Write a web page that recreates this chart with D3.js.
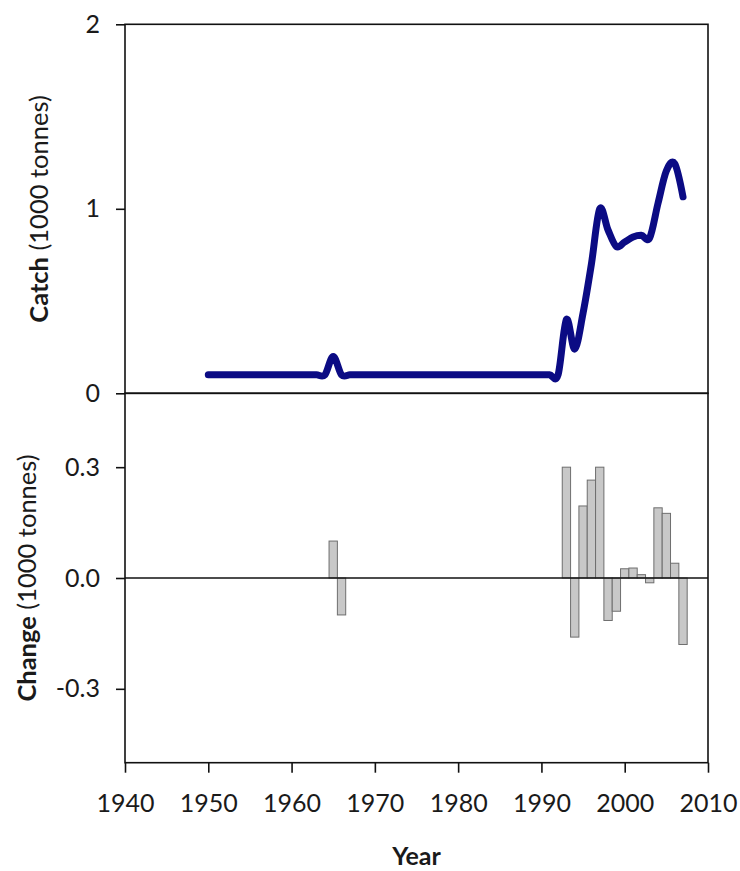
<!DOCTYPE html>
<html>
<head>
<meta charset="utf-8">
<script src="https://cdn.jsdelivr.net/npm/d3@7"></script>
<style>
  html, body { margin: 0; padding: 0; background: #fff; }
  svg { display: block; }
  text { font-family: Lato, "Open Sans", sans-serif; fill: #1a1a1a; }
</style>
</head>
<body>
<svg id="chart" width="740" height="871"></svg>
<script>
// Annual catch (1000 tonnes)
const catchYears = d3.range(1950, 2008);
const catchValues = [
  0.1, 0.1, 0.1, 0.1, 0.1, 0.1, 0.1, 0.1, 0.1, 0.1,        // 1950-1959
  0.1, 0.1, 0.1, 0.1, 0.1, 0.2, 0.1, 0.1, 0.1, 0.1,        // 1960-1969
  0.1, 0.1, 0.1, 0.1, 0.1, 0.1, 0.1, 0.1, 0.1, 0.1,        // 1970-1979
  0.1, 0.1, 0.1, 0.1, 0.1, 0.1, 0.1, 0.1, 0.1, 0.1,        // 1980-1989
  0.1, 0.1, 0.1, 0.40, 0.24, 0.435, 0.70, 1.00, 0.885, 0.795, // 1990-1999
  0.82, 0.847, 0.856, 0.843, 1.03, 1.205, 1.245, 1.065     // 2000-2007
];

// Year-on-year change (1000 tonnes), non-zero years only
const changeYears = [1965, 1966, 1993, 1994, 1995, 1996, 1997, 1998, 1999,
                     2000, 2001, 2002, 2003, 2004, 2005, 2006, 2007];
const changeValues = [0.10, -0.10, 0.30, -0.16, 0.195, 0.265, 0.30, -0.115, -0.09,
                      0.025, 0.027, 0.009, -0.013, 0.19, 0.175, 0.04, -0.18];

const xTicks = [1940, 1950, 1960, 1970, 1980, 1990, 2000, 2010];
const catchTicks = [0, 1, 2];
const changeTicks = [-0.3, 0.0, 0.3];

const svg = d3.select("#chart");
const left = 125, right = 708;
const topY = 24.3, midY = 393.3, botY = 762.7;

const x = d3.scaleLinear().domain([1940, 2010]).range([left, right]);
const yCatch = d3.scaleLinear().domain([0, 2]).range([midY, topY]);
const yChange = d3.scaleLinear().domain([-0.5, 0.5]).range([botY, midY]);

// Panel frames
const frame = svg.append("g").attr("fill", "none").attr("stroke", "#111").attr("stroke-width", 1.6);
frame.append("rect").attr("x", left).attr("y", topY).attr("width", right - left).attr("height", midY - topY);
frame.append("rect").attr("x", left).attr("y", midY).attr("width", right - left).attr("height", botY - midY);

// Change bars
svg.append("g").selectAll("rect")
  .data(changeYears.map((yr, i) => ({ yr, v: changeValues[i] })))
  .join("rect")
  .attr("x", d => x(d.yr - 0.5))
  .attr("width", d => x(d.yr + 0.5) - x(d.yr - 0.5))
  .attr("y", d => yChange(Math.max(0, d.v)))
  .attr("height", d => Math.abs(yChange(d.v) - yChange(0)))
  .attr("fill", "#c8c8c8")
  .attr("stroke", "#6e6e6e")
  .attr("stroke-width", 1);

// Zero line of the change panel
svg.append("line")
  .attr("x1", left).attr("x2", right)
  .attr("y1", yChange(0)).attr("y2", yChange(0))
  .attr("stroke", "#111").attr("stroke-width", 1.6);

// Smoothed catch line
const line = d3.line()
  .x((d, i) => x(catchYears[i]))
  .y(d => yCatch(d))
  .curve(d3.curveCardinal.tension(0));
svg.append("path")
  .datum(catchValues)
  .attr("d", line)
  .attr("fill", "none")
  .attr("stroke", "#0b0b84")
  .attr("stroke-width", 7)
  .attr("stroke-linecap", "round")
  .attr("stroke-linejoin", "round");

// Axes
function styleAxis(g) {
  g.selectAll(".domain").remove();
  g.selectAll(".tick line").attr("stroke", "#111").attr("stroke-width", 1.6);
  g.selectAll(".tick text").style("font-size", "25px").attr("fill", "#1a1a1a");
}

// Plain hyphen for negative labels
const fmtChange = v => d3.format(".1f")(v).replace("\u2212", "-");

svg.append("g")
  .attr("transform", `translate(${left},0)`)
  .call(d3.axisLeft(yCatch).tickValues(catchTicks).tickFormat(d3.format("d")).tickSize(9).tickPadding(16))
  .call(styleAxis);

svg.append("g")
  .attr("transform", `translate(${left},0)`)
  .call(d3.axisLeft(yChange).tickValues(changeTicks).tickFormat(fmtChange).tickSize(9).tickPadding(16))
  .call(styleAxis);

svg.append("g")
  .attr("transform", `translate(0,${botY})`)
  .call(d3.axisBottom(x).tickValues(xTicks).tickFormat(d3.format("d")).tickSize(10).tickPadding(22))
  .call(styleAxis);

// Axis titles
function yTitle(cx, cy, bold, rest) {
  const t = svg.append("text")
    .attr("transform", `translate(${cx},${cy}) rotate(-90)`)
    .attr("text-anchor", "middle")
    .attr("dominant-baseline", "central")
    .style("font-size", "25.5px");
  t.append("tspan").attr("font-weight", "bold").text(bold);
  t.append("tspan").text(rest);
}
yTitle(38, 209, "Catch", " (1000 tonnes)");
yTitle(26, 578, "Change", " (1000 tonnes)");

svg.append("text")
  .attr("x", (left + right) / 2).attr("y", 865)
  .attr("text-anchor", "middle")
  .attr("font-weight", "bold")
  .style("font-size", "25px")
  .text("Year");
</script>
</body>
</html>
